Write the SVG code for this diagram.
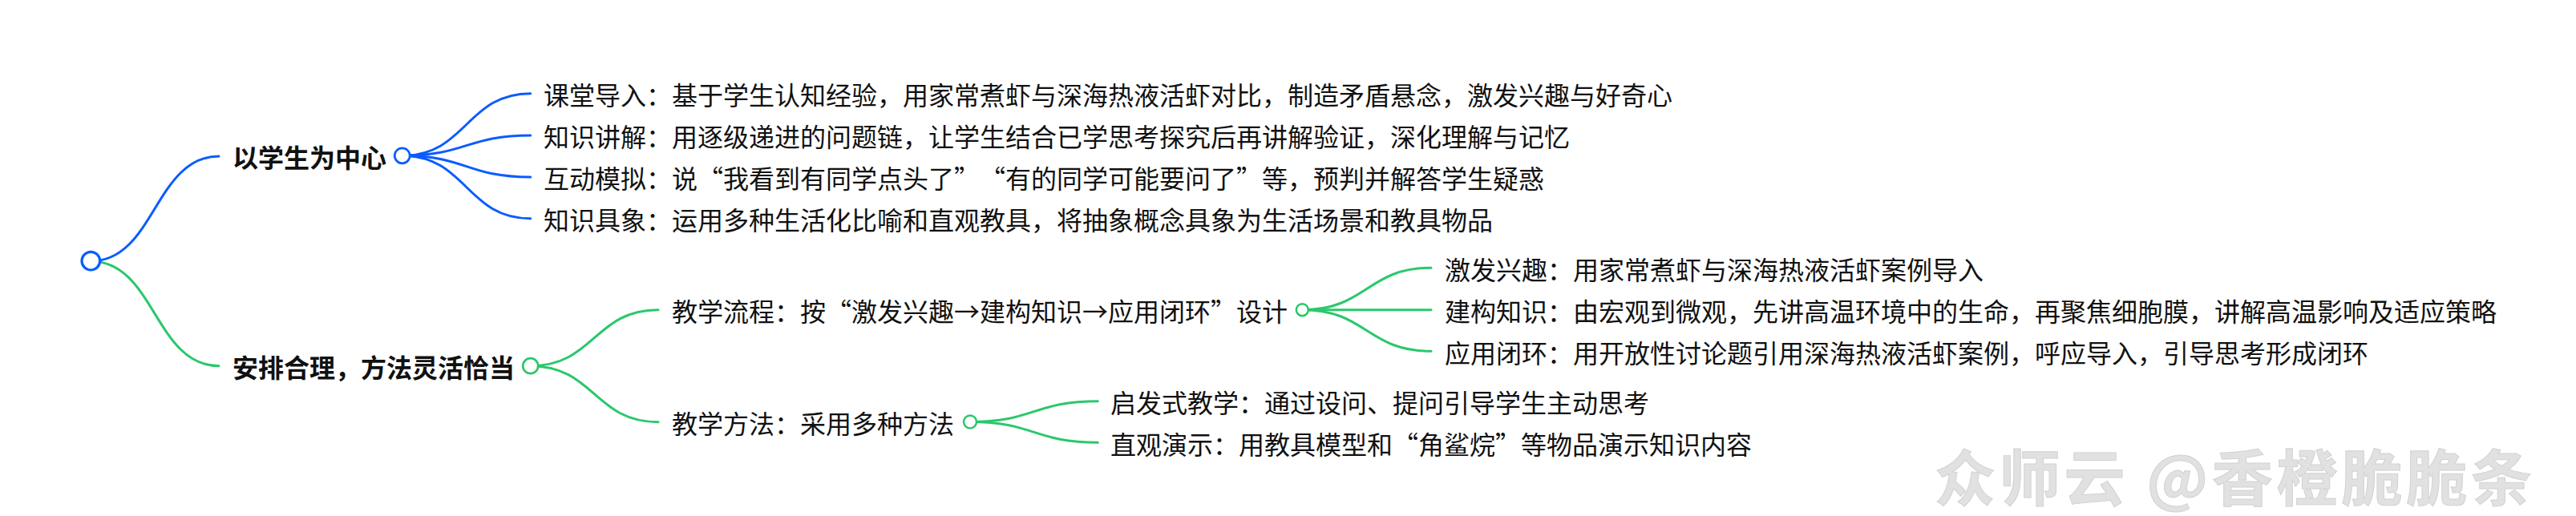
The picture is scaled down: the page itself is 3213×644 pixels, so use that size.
<svg xmlns="http://www.w3.org/2000/svg" width="3213" height="644" viewBox="0 0 3213 644">
<style>
text{font-family:"Noto Sans CJK SC","Noto Sans",sans-serif;font-size:32px;fill:#111;dominant-baseline:central;text-spacing-trim:space-all;font-feature-settings:"chws" 0,"halt" 0}
.b{font-weight:700}
.c{fill:none;stroke-width:3;stroke-linecap:round}
.blue{stroke:#0a5cff}
.green{stroke:#2ac86c}
.dot{fill:#fff}
.wm{font-size:76px;font-weight:700;fill:#e1e1e1;stroke:#d2d2d2;stroke-width:1}
</style>
<rect width="3213" height="644" fill="#fff"/>
<g id="connectors">
<path class="c blue" d="M113,326 C193,326 193,195 273,195"/>
<path class="c green" d="M113,326 C193,326 193,456.7 273,456.7"/>
<path class="c blue" d="M501.7,194.3 C581.7,194.3 581.7,116.7 661.7,116.7"/>
<path class="c blue" d="M501.7,194.3 C581.7,194.3 581.7,169 661.7,169"/>
<path class="c blue" d="M501.7,194.3 C581.7,194.3 581.7,221 661.7,221"/>
<path class="c blue" d="M501.7,194.3 C581.7,194.3 581.7,272.7 661.7,272.7"/>
<path class="c green" d="M661.7,456.7 C741.3,456.7 741.3,386.7 821,386.7"/>
<path class="c green" d="M661.7,456.7 C741.3,456.7 741.3,526.7 821,526.7"/>
<path class="c green" d="M1624.3,386.7 C1704.7,386.7 1704.7,334.3 1785,334.3"/>
<path class="c green" d="M1624.3,386.7 L1785,386.7"/>
<path class="c green" d="M1624.3,386.7 C1704.7,386.7 1704.7,438.3 1785,438.3"/>
<path class="c green" d="M1210,526.5 C1289.7,526.5 1289.7,500.7 1369.3,500.7"/>
<path class="c green" d="M1210,526.5 C1289.7,526.5 1289.7,552.3 1369.3,552.3"/>
</g>
<g id="root"><circle class="dot" cx="113.3" cy="325.7" r="11.3" stroke="#0a5cff" stroke-width="3.2"/></g>
<g id="n1"><text class="b" x="290" y="195">以学生为中心</text><circle class="dot" cx="501.7" cy="194.3" r="9.5" stroke="#0a5cff" stroke-width="2.7"/></g>
<g id="n1a"><text x="678" y="117">课堂导入：基于学生认知经验，用家常煮虾与深海热液活虾对比，制造矛盾悬念，激发兴趣与好奇心</text></g>
<g id="n1b"><text x="678" y="169">知识讲解：用逐级递进的问题链，让学生结合已学思考探究后再讲解验证，深化理解与记忆</text></g>
<g id="n1c"><text x="678" y="221">互动模拟：说“我看到有同学点头了”“有的同学可能要问了”等，预判并解答学生疑惑</text></g>
<g id="n1d"><text x="678" y="273">知识具象：运用多种生活化比喻和直观教具，将抽象概念具象为生活场景和教具物品</text></g>
<g id="n2"><text class="b" x="290" y="457">安排合理，方法灵活恰当</text><circle class="dot" cx="661.7" cy="456.7" r="9.5" stroke="#2ac86c" stroke-width="2.7"/></g>
<g id="n2a"><text x="838" y="387">教学流程：按“激发兴趣→建构知识→应用闭环”设计</text><circle class="dot" cx="1624.3" cy="386.7" r="7.5" stroke="#2ac86c" stroke-width="2.5"/></g>
<g id="n2a1"><text x="1802" y="334.5">激发兴趣：用家常煮虾与深海热液活虾案例导入</text></g>
<g id="n2a2"><text x="1802" y="387">建构知识：由宏观到微观，先讲高温环境中的生命，再聚焦细胞膜，讲解高温影响及适应策略</text></g>
<g id="n2a3"><text x="1802" y="438.5">应用闭环：用开放性讨论题引用深海热液活虾案例，呼应导入，引导思考形成闭环</text></g>
<g id="n2b"><text x="838" y="527">教学方法：采用多种方法</text><circle class="dot" cx="1210" cy="526.5" r="8" stroke="#2ac86c" stroke-width="2.5"/></g>
<g id="n2b1"><text x="1385" y="501">启发式教学：通过设问、提问引导学生主动思考</text></g>
<g id="n2b2"><text x="1385" y="552.5">直观演示：用教具模型和“角鲨烷”等物品演示知识内容</text></g>
<text class="wm" x="2413" y="592" textLength="745">众师云 @香橙脆脆条</text>
</svg>
